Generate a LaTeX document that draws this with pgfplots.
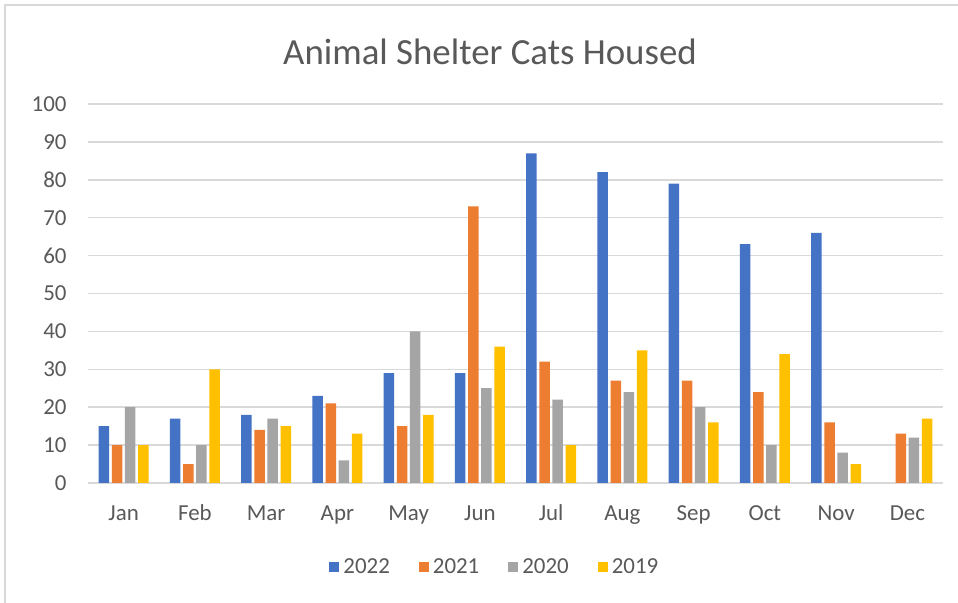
\documentclass[border=0pt]{standalone}
\usepackage{pgfplots}
\pgfplotsset{compat=1.18}
\usepackage{fontspec}
\setmainfont{Carlito}
\definecolor{c22}{HTML}{4472C4}
\definecolor{c21}{HTML}{ED7D31}
\definecolor{c20}{HTML}{A5A5A5}
\definecolor{c19}{HTML}{FFC000}
\definecolor{txt}{HTML}{595959}
\definecolor{gridc}{HTML}{D9D9D9}
\begin{document}
\begin{tikzpicture}[x=1bp,y=1bp]
\useasboundingbox (0,0) rectangle (958,603);
\fill[white] (0,0) rectangle (958,603);
\draw[gridc, line width=1.5bp] (5,-10) -- (5,598) -- (970,598);
\node[text=txt, font=\fontsize{37}{40}\selectfont] at (490,551) {Animal Shelter Cats Housed};
\begin{axis}[
  at={(88bp,120bp)}, anchor=south west,
  scale only axis, width=855bp, height=379bp,
  xmin=-0.5, xmax=11.5, ymin=0, ymax=100,
  ybar=2.7bp, bar width=10.5bp,
  xtick={0,...,11},
  xticklabels={Jan,Feb,Mar,Apr,May,Jun,Jul,Aug,Sep,Oct,Nov,Dec},
  ytick={0,10,...,100},
  ymajorgrids, xmajorgrids=false, grid style={draw=gridc, line width=1.5bp},
  axis x line*=bottom, axis y line*=left,
  x axis line style={draw=gridc, line width=1.5bp, -},
  y axis line style={draw=none},
  tick style={draw=none},
  major tick length=0pt,
  tick label style={text=txt, font=\fontsize{23}{26}\selectfont},
  /pgf/number format/assume math mode=true,
  xticklabel style={anchor=base, yshift=-38bp},
  yticklabel style={xshift=-18bp},
  legend columns=4,
  legend style={at={(0.477,-0.222)}, anchor=center, draw=none, fill=none,
    font=\fontsize{23}{26}\selectfont, text=txt,
    /tikz/every even column/.append style={column sep=25bp}},
  legend image code/.code={\fill[#1] (0bp,-5bp) rectangle (10bp,5bp);},
  legend cell align=left,
  legend style={nodes={inner xsep=4bp}},
]
\addplot[fill=c22, draw=none] coordinates {(0,15)(1,17)(2,18)(3,23)(4,29)(5,29)(6,87)(7,82)(8,79)(9,63)(10,66)};
\addplot[fill=c21, draw=none] coordinates {(0,10)(1,5)(2,14)(3,21)(4,15)(5,73)(6,32)(7,27)(8,27)(9,24)(10,16)(11,13)};
\addplot[fill=c20, draw=none] coordinates {(0,20)(1,10)(2,17)(3,6)(4,40)(5,25)(6,22)(7,24)(8,20)(9,10)(10,8)(11,12)};
\addplot[fill=c19, draw=none] coordinates {(0,10)(1,30)(2,15)(3,13)(4,18)(5,36)(6,10)(7,35)(8,16)(9,34)(10,5)(11,17)};
\legend{2022,2021,2020,2019}
\end{axis}
\end{tikzpicture}
\end{document}
